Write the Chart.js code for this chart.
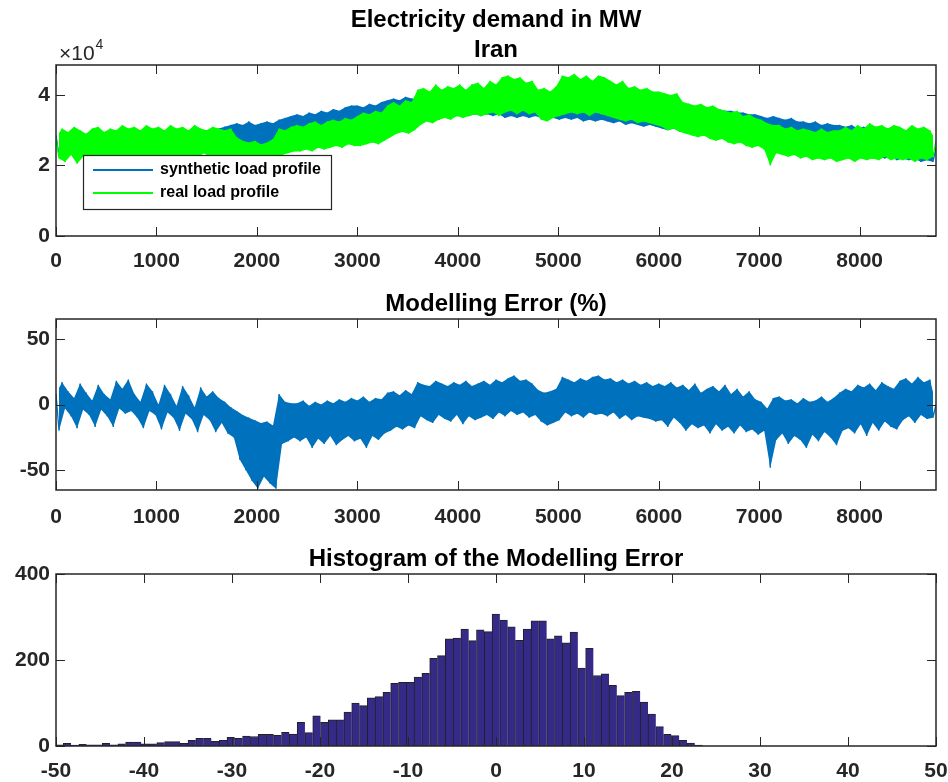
<!DOCTYPE html>
<html>
<head>
<meta charset="utf-8">
<script src="https://cdn.jsdelivr.net/npm/chart.js@4.4.0/dist/chart.umd.min.js"></script>
<style>
  body { margin: 0; background: #fff; }
  .plot { position: absolute; left: 0; width: 948px; }
</style>
</head>
<body>
<div class="plot" style="top:0;height:275px"><canvas id="loadChart"></canvas></div>
<div class="plot" style="top:275px;height:260px"><canvas id="errorChart"></canvas></div>
<div class="plot" style="top:535px;height:247px"><canvas id="histChart"></canvas></div>
<script>
const stepHours = 30;

// real load, thousand MW
const realLoad = [
  28,22, 30.5,21, 29.5,23, 31,20.5, 30,22.5, 29,21.5, 30.5,23, 31,21, 29.5,22.5, 30.5,21.5,
  30,22, 31.5,21.5, 30.5,23, 31,21.5, 30,22, 31.5,22.5, 30.5,21, 31,23, 30,22, 31.5,21.5,
  30.5,22.5, 31,22, 30,23, 31.5,22, 30.5,23.5, 30,22.5, 31,23, 30.5,22, 30,23, 30.5,22.5,
  28,22, 27,21.5, 26.5,21, 27,21.5, 26,21, 26.5,21.5, 27.5,22, 30.5,23, 30,23.5, 31,24,
  31.5,24, 31,24.5, 32,24, 32.5,25, 31.5,24.5, 32.5,25, 33,25.5, 32.5,25, 33.5,26, 33,25.5,
  34,25.5, 35,26, 34.5,26.5, 35.5,26, 35,27, 37,28, 38,29, 37,29.5, 38.5,29, 38,30,
  41.5,31.5, 42,32.5, 41,32, 43,33, 41.5,33.5, 42.5,33, 42,34, 43,33.5, 41.5,34, 43,34.5,
  43.5,34, 42,34.5, 44,35, 43,34, 45,35, 45.5,35.5, 44.5,34.5, 45,35.5, 43.5,34.5, 44,35,
  41.5,33, 42,32.5, 41,33.5, 42.5,34, 45.5,34.5, 45,35, 46,34.5, 44.5,35, 45.5,34, 44,35,
  45.5,34.5, 45,34, 44,33.5, 43,33, 44,32.5, 42,33, 42.5,32, 41.5,32.5, 42,32, 41,31.5,
  41,31, 40.5,30, 40,30.5, 40.5,29.5, 38,29, 37.5,28.5, 37,28, 37.5,28.5, 36.5,27.5, 37,27,
  36,27.5, 35.5,26.5, 35,26, 35.5,26.5, 34,25.5, 34.5,25, 33.5,25.5, 33,24.5, 32,20, 31.5,23.5,
  31.5,23, 30.5,22.5, 31,23, 30,22, 30.5,22.5, 30,21.5, 29.5,22, 30.5,21.5, 29.5,22, 30,21,
  30,21.5, 31,22, 30,21, 31.5,22, 30.5,21.5, 32,22, 31,21.5, 31.5,22.5, 30.5,21.5, 31.5,22,
  31,21.5, 30,22, 31.5,21, 30.5,22, 31,21.5, 30,22.5, 27
];

// synthetic load, thousand MW
const syntheticLoad = [
  28.5,23, 29,22.5, 28.5,23.5, 29,22.5, 28,23, 29,23.5, 28.5,22.5, 29,23, 28.5,23.5, 29,22.5,
  28.5,23, 29,23.5, 28,22.5, 29,23, 28.5,23.5, 29.5,23, 28.5,22.5, 29,23.5, 28.5,23, 29.5,23.5,
  29,23.5, 29.5,24, 28.5,23.5, 29.5,24, 29,23.5, 30,24.5, 29.5,24, 30.5,24.5, 31,25, 31.5,25.5,
  32,25.5, 31.5,26, 32.5,25, 31.5,25.5, 32,26, 32.5,25.5, 32,26.5, 33,26, 33.5,27, 34,26.5,
  34.5,27, 34,27.5, 35,27, 34.5,28, 35.5,27.5, 35,28, 36,28.5, 35.5,28, 36.5,29, 37,28.5,
  37,29, 36.5,29.5, 37.5,29, 37,30, 38,30.5, 38.5,30, 39,31, 38.5,31.5, 39.5,31, 39,32,
  39,32.5, 38.5,33, 39.5,33.5, 39,33, 40,34, 39.5,33.5, 40,34, 39.5,34.5, 40.5,34, 40,34.5,
  40,34, 40.5,34.5, 39.5,34, 40.5,34.5, 40,33.5, 41,34, 40.5,33.5, 40,34, 40.5,33.5, 40,34,
  40,33.5, 39.5,34, 40,33.5, 40.5,33, 40,33.5, 39.5,33, 40,33.5, 39.5,32.5, 40,33, 39.5,32.5,
  39.5,33, 39,32.5, 39.5,32, 39,32.5, 39.5,31.5, 39,32, 38.5,31.5, 39,31, 38.5,31.5, 38,31,
  38.5,30.5, 38,30, 37.5,30.5, 38,29.5, 37,30, 37.5,29, 36.5,29.5, 37,28.5, 36.5,29, 36,28.5,
  36,28, 35.5,28.5, 35.5,27.5, 35,28, 35,27, 34.5,27.5, 34.5,26.5, 34,27, 33.5,24.5, 34,26,
  33.5,25.5, 33,26, 33.5,25, 32.5,25.5, 32.5,24.5, 32,25, 32.5,24, 31.5,24.5, 32,23.5, 31.5,24,
  31.5,23.5, 31,23, 31.5,23.5, 30.5,22.5, 31,23, 30.5,22, 31,22.5, 30,22, 30.5,22.5, 30,21.5,
  30.5,22, 30,21.5, 30.5,22, 29.5,21, 30,21.5, 29.5,21, 25
];

// modelling error, %
const modelError = [
  8,-20, 17,-3, 10,-9, 5,-18, 16,-4, 9,-8, 3,-17, 15,-4, 8,-9, 4,-17,
  18,-3, 12,-7, 19,-5, 8,-10, 2,-18, 16,-5, 10,-8, 0,-19, 15,-6, 8,-10,
  -1,-20, 14,-7, 7,-11, -2,-21, 13,-8, 6,-12, 10,-21, 5,-14, 2,-22, -2,-25,
  -5,-42, -8,-50, -10,-58, -12,-64, -14,-55, -13,-60, -16,-64, 8,-30, 2,-28, 1,-25,
  1,-28, 3,-25, -1,-33, 2,-26, 0,-30, 3,-24, 1,-31, 4,-27, 2,-24, 5,-28,
  3,-26, 6,-33, 2,-24, 5,-27, 4,-22, 9,-20, 10,-17, 7,-19, 11,-16, 8,-18,
  17,-9, 15,-12, 14,-14, 18,-8, 16,-11, 14,-13, 17,-8, 15,-15, 18,-9, 14,-12,
  16,-10, 18,-8, 15,-11, 19,-6, 17,-9, 20,-5, 22,-8, 18,-6, 19,-10, 16,-8,
  11,-13, 9,-16, 10,-14, 12,-12, 21,-6, 19,-9, 17,-7, 20,-10, 18,-6, 21,-8,
  22,-7, 19,-9, 20,-6, 17,-11, 19,-8, 16,-12, 18,-9, 15,-10, 17,-11, 14,-13,
  16,-12, 14,-17, 17,-10, 13,-14, 15,-20, 11,-15, 16,-18, 9,-16, 12,-22, 14,-15,
  10,-20, 15,-17, 8,-22, 12,-16, 6,-21, 10,-19, 4,-23, 2,-20, -3,-48, 5,-27,
  6,-22, 3,-30, 4,-24, 1,-27, 5,-33, 2,-23, 3,-28, 6,-21, 2,-25, 5,-31,
  9,-20, 12,-18, 10,-22, 15,-15, 13,-24, 16,-14, 11,-20, 17,-13, 14,-17, 12,-19,
  18,-12, 20,-9, 16,-14, 21,-8, 17,-11, 19,-10, 0
];

// histogram of the error
const binStart = -49.62;
const binWidth = 0.886;
const binCounts = [
  3, 6, 2, 4, 3, 3, 6, 3, 5, 9, 9, 5, 5, 8, 10, 10, 6, 13, 18, 18,
  11, 13, 20, 18, 23, 22, 27, 27, 25, 32, 28, 55, 31, 70, 55, 61, 61, 79, 100, 94,
  112, 115, 125, 146, 148, 148, 160, 169, 204, 210, 249, 251, 272, 245, 270, 266,
  307, 293, 277, 246, 272, 291, 291, 249, 256, 240, 265, 181, 227, 164, 168, 141,
  117, 125, 127, 102, 74, 45, 27, 24, 13, 7, 2
];

const hourTicks = [0, 1000, 2000, 3000, 4000, 5000, 6000, 7000, 8000];
const loadTicks = [0, 20, 40];          // thousand MW, shown as x10^4
const errorTicks = [-50, 0, 50];
const binTicks = [-50, -40, -30, -20, -10, 0, 10, 20, 30, 40, 50];
const countTicks = [0, 200, 400];

const fontFamily = "'Liberation Sans', Arial, sans-serif";
const axisColor = '#262626';
const blue = '#0072BD';
const green = '#00FF00';
const tickFont = { family: fontFamily, size: 21, weight: 'bold' };
const titleFont = { family: fontFamily, size: 24, weight: 'bold', lineHeight: 1.25 };
const tickLen = 9;

function toPoints(arr) {
  return arr.map((v, i) => ({ x: i * stepHours, y: v }));
}
// the peaks (even) and troughs (odd) of the same series, used to shade its band
function peaks(arr) { return toPoints(arr).filter((p, i) => i % 2 === 0); }
function troughs(arr) { return toPoints(arr).filter((p, i) => i % 2 === 1); }

function bandSets(arr, color, order) {
  return [
    { data: peaks(arr), borderWidth: 0, backgroundColor: color, fill: '+1', order: order, band: true },
    { data: troughs(arr), borderWidth: 0, fill: false, order: order, band: true }
  ];
}

function keepTicks(values) {
  return scale => { scale.ticks = values.map(v => ({ value: v })); };
}

function axes(x, y) {
  return {
    x: {
      type: 'linear', min: x.min, max: x.max, offset: false,
      afterBuildTicks: keepTicks(x.ticks),
      afterFit: s => { s.height = x.height; s.paddingLeft = 0; s.paddingRight = 0; },
      grid: { display: false, drawTicks: false }, border: { display: false },
      ticks: { font: tickFont, color: axisColor, padding: x.pad, maxRotation: 0, autoSkip: false,
               callback: v => String(v) }
    },
    y: {
      type: 'linear', min: y.min, max: y.max,
      afterBuildTicks: keepTicks(y.ticks),
      afterFit: s => { s.width = 56; s.paddingTop = 0; s.paddingBottom = 0; },
      grid: { display: false, drawTicks: false }, border: { display: false },
      ticks: { font: tickFont, color: axisColor, padding: 6, callback: y.label || (v => String(v)) }
    }
  };
}

function titleOpts(text, top, bottom) {
  return { display: true, text: text, fullSize: false, color: '#000', font: titleFont,
           padding: { top: top, bottom: bottom } };
}

// axes box with MATLAB style inward ticks
const frame = {
  id: 'frame',
  afterDatasetsDraw(chart) {
    const { ctx, chartArea: a, scales } = chart;
    ctx.save();
    ctx.strokeStyle = axisColor;
    ctx.lineWidth = 1;
    ctx.beginPath();
    scales.x.ticks.forEach(t => {
      const px = Math.round(scales.x.getPixelForValue(t.value)) + 0.5;
      ctx.moveTo(px, a.bottom); ctx.lineTo(px, a.bottom - tickLen);
      ctx.moveTo(px, a.top); ctx.lineTo(px, a.top + tickLen);
    });
    scales.y.ticks.forEach(t => {
      const py = Math.round(scales.y.getPixelForValue(t.value)) + 0.5;
      ctx.moveTo(a.left, py); ctx.lineTo(a.left + tickLen, py);
      ctx.moveTo(a.right, py); ctx.lineTo(a.right - tickLen, py);
    });
    ctx.stroke();
    ctx.lineWidth = 1.5;
    ctx.strokeRect(a.left, a.top, a.right - a.left, a.bottom - a.top);
    ctx.restore();
  }
};

const expLabel = {
  id: 'expLabel',
  afterDraw(chart) {
    const { ctx, chartArea: a } = chart;
    ctx.save();
    ctx.fillStyle = axisColor;
    ctx.textBaseline = 'alphabetic';
    ctx.font = '21px ' + fontFamily;
    ctx.fillText('\u00d710', a.left + 3, a.top - 5);
    const w = ctx.measureText('\u00d710').width;
    ctx.font = '14px ' + fontFamily;
    ctx.fillText('4', a.left + 4 + w, a.top - 16);
    ctx.restore();
  }
};

const legendBox = {
  id: 'legendBox',
  afterDraw(chart) {
    const { ctx, chartArea: a } = chart;
    const x = a.left + 27, y = a.top + 90, w = 248, h = 54;
    ctx.save();
    ctx.fillStyle = '#fff';
    ctx.fillRect(x, y, w, h);
    ctx.strokeStyle = axisColor;
    ctx.lineWidth = 1.2;
    ctx.strokeRect(x + 0.5, y + 0.5, w, h);
    ctx.font = 'bold 16px ' + fontFamily;
    ctx.textBaseline = 'middle';
    chart.data.datasets.filter(ds => !ds.band).forEach((ds, i) => {
      const ly = y + 15 + i * 23;
      ctx.strokeStyle = ds.borderColor;
      ctx.lineWidth = 2;
      ctx.beginPath();
      ctx.moveTo(x + 10, ly); ctx.lineTo(x + 70, ly);
      ctx.stroke();
      ctx.fillStyle = '#000';
      ctx.fillText(ds.label, x + 77, ly);
    });
    ctx.restore();
  }
};

const common = {
  responsive: true, maintainAspectRatio: false, animation: false, devicePixelRatio: 1,
  layout: { padding: { right: 12 } },
  elements: { point: { radius: 0 }, line: { tension: 0, borderJoinStyle: 'bevel' } }
};

new Chart(document.getElementById('loadChart'), {
  type: 'line',
  data: {
    datasets: [
      { label: 'synthetic load profile', data: toPoints(syntheticLoad), borderColor: blue,
        borderWidth: 1.3, order: 3 },
      { label: 'real load profile', data: toPoints(realLoad), borderColor: green,
        borderWidth: 1.3, order: 1 }
    ].concat(bandSets(realLoad, green, 2), bandSets(syntheticLoad, blue, 4))
  },
  options: Object.assign({}, common, {
    scales: axes({ min: 0, max: 8760, ticks: hourTicks, height: 39, pad: 13 },
                 { min: 0, max: 48.5, ticks: loadTicks, label: v => String(v / 10) }),
    plugins: {
      legend: { display: false }, tooltip: { enabled: false },
      title: titleOpts(['Electricity demand in MW', 'Iran'], 5, 0)
    }
  }),
  plugins: [frame, expLabel, legendBox]
});

new Chart(document.getElementById('errorChart'), {
  type: 'line',
  data: {
    datasets: [
      { label: 'error', data: toPoints(modelError), borderColor: blue, borderWidth: 1.3, order: 1 }
    ].concat(bandSets(modelError, blue, 2))
  },
  options: Object.assign({}, common, {
    scales: axes({ min: 0, max: 8760, ticks: hourTicks, height: 45, pad: 15 },
                 { min: -65, max: 65, ticks: errorTicks }),
    plugins: {
      legend: { display: false }, tooltip: { enabled: false },
      title: titleOpts('Modelling Error (%)', 14, 0)
    }
  }),
  plugins: [frame]
});

new Chart(document.getElementById('histChart'), {
  type: 'bar',
  data: {
    datasets: [{
      data: binCounts.map((c, i) => ({ x: binStart + i * binWidth, y: c })),
      backgroundColor: 'rgb(53,42,135)',
      borderColor: '#222',
      borderWidth: { top: 1, left: 1, right: 0, bottom: 0 },
      borderSkipped: false,
      barPercentage: 1, categoryPercentage: 1
    }]
  },
  options: Object.assign({}, common, {
    scales: axes({ min: -50, max: 50, ticks: binTicks, height: 36, pad: 13 },
                 { min: 0, max: 400, ticks: countTicks }),
    plugins: {
      legend: { display: false }, tooltip: { enabled: false },
      title: titleOpts('Histogram of the Modelling Error', 9, 0)
    }
  }),
  plugins: [frame]
});
</script>
</body>
</html>
